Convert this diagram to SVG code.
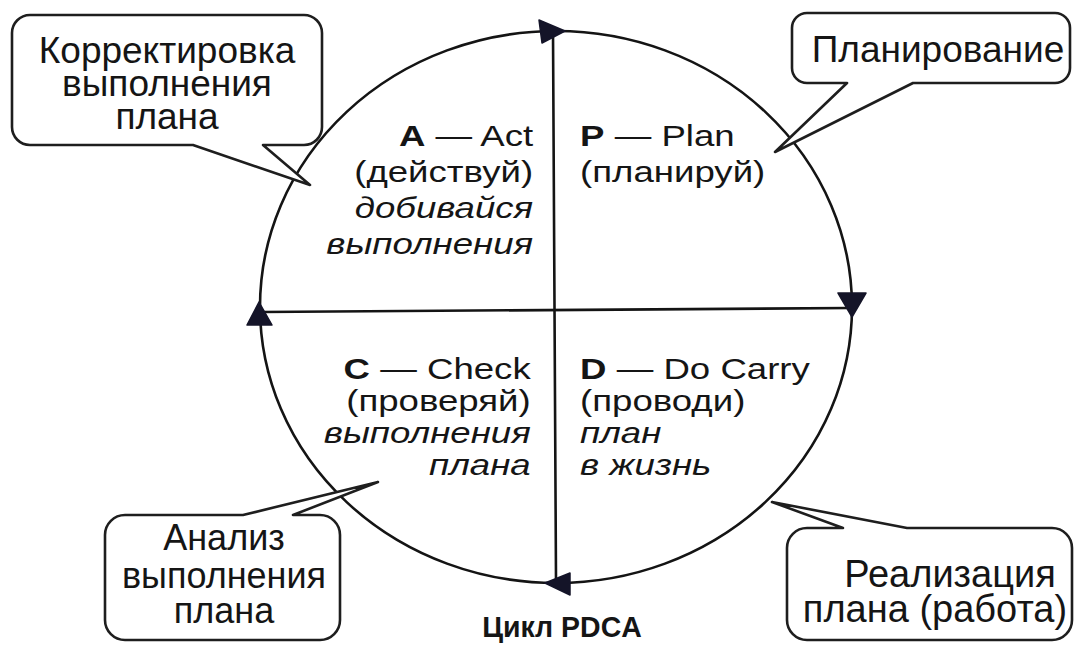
<svg xmlns="http://www.w3.org/2000/svg" width="1078" height="645" viewBox="0 0 1078 645">
<style>
.ln{fill:none;stroke:#141414;stroke-width:2.6;stroke-linecap:round;stroke-linejoin:round}
.co{fill:#fff;stroke:#1e1e1e;stroke-width:2.6;stroke-linejoin:round}
.ah{fill:#141428;stroke:#141428;stroke-width:1.5;stroke-linejoin:round}
.t{font-family:"Liberation Sans",Arial,sans-serif;fill:#151515}
.ct{font-size:37px;text-anchor:middle}
.q{font-size:30px}
.b{font-weight:bold}
.i{font-style:italic}
.e{text-anchor:end}
</style>
<rect width="1078" height="645" fill="#fff"/>
<g id="connectors">
<ellipse class="ln" cx="556" cy="307" rx="296" ry="276"/>
<line class="ln" x1="553" y1="32" x2="556" y2="580"/>
<line class="ln" x1="262" y1="312" x2="850" y2="308"/>
<polygon class="ah" points="539,20 542,43 565,31"/>
<polygon class="ah" points="838,293 866,293 852,317"/>
<polygon class="ah" points="570,573 570,595 545,583"/>
<polygon class="ah" points="247,325 272,325 259,302"/>
</g>
<g id="quad-A" class="t q">
<g transform="scale(1.22 1)">
<text x="437" y="146" class="e"><tspan class="b">A</tspan> — Act</text>
<text x="437" y="182" class="e">(действуй)</text>
<text x="437" y="218" class="e i">добивайся</text>
<text x="437" y="254" class="e i">выполнения</text>
</g>
</g>
<g id="quad-P" class="t q">
<g transform="scale(1.22 1)">
<text x="475.5" y="146"><tspan class="b">P</tspan> — Plan</text>
<text x="475.5" y="182">(планируй)</text>
</g>
</g>
<g id="quad-C" class="t q">
<g transform="scale(1.22 1)">
<text x="435" y="379" class="e"><tspan class="b">C</tspan> — Check</text>
<text x="435" y="411" class="e">(проверяй)</text>
<text x="435" y="443" class="e i">выполнения</text>
<text x="435" y="475" class="e i">плана</text>
</g>
</g>
<g id="quad-D" class="t q">
<g transform="scale(1.22 1)">
<text x="475.5" y="379"><tspan class="b">D</tspan> — Do Carry</text>
<text x="475.5" y="411">(проводи)</text>
<text x="475.5" y="443" class="i">план</text>
<text x="475.5" y="475" class="i">в жизнь</text>
</g>
</g>
<g id="callout-correct">
<path class="co" d="M30 15 H304 A18 18 0 0 1 322 33 V127 A18 18 0 0 1 304 145 H263 L310 185 L193 145 H30 A18 18 0 0 1 12 127 V33 A18 18 0 0 1 30 15 Z"/>
<text class="t ct" x="167" y="63">Корректировка</text>
<text class="t ct" x="167" y="96">выполнения</text>
<text class="t ct" x="167" y="129">плана</text>
</g>
<g id="callout-plan">
<path class="co" d="M807 13 H1055 A15 15 0 0 1 1070 28 V68 A15 15 0 0 1 1055 83 H913 L775 152 L847 83 H807 A15 15 0 0 1 792 68 V28 A15 15 0 0 1 807 13 Z"/>
<text class="t ct" x="938" y="62">Планирование</text>
</g>
<g id="callout-analysis">
<path class="co" d="M125 515 H243 L378 482 L293 515 H320 A20 20 0 0 1 340 535 V620 A20 20 0 0 1 320 640 H125 A20 20 0 0 1 105 620 V535 A20 20 0 0 1 125 515 Z"/>
<text class="t ct" x="224" y="550" style="font-size:36px">Анализ</text>
<text class="t ct" x="224" y="588" style="font-size:36px">выполнения</text>
<text class="t ct" x="224" y="623" style="font-size:36px">плана</text>
</g>
<g id="callout-do">
<path class="co" d="M807 528 H843 L772 502 L907 528 H1052 A20 20 0 0 1 1072 548 V620 A20 20 0 0 1 1052 640 H807 A20 20 0 0 1 787 620 V548 A20 20 0 0 1 807 528 Z"/>
<text class="t ct" x="950" y="587" style="font-size:38px">Реализация</text>
<text class="t ct" x="935" y="622" style="font-size:38px">плана (работа)</text>
</g>
<g id="title" class="t b">
<text x="591.6" y="637" transform="scale(0.95 1)" style="font-size:30px;text-anchor:middle">Цикл PDCA</text>
</g>
</svg>
